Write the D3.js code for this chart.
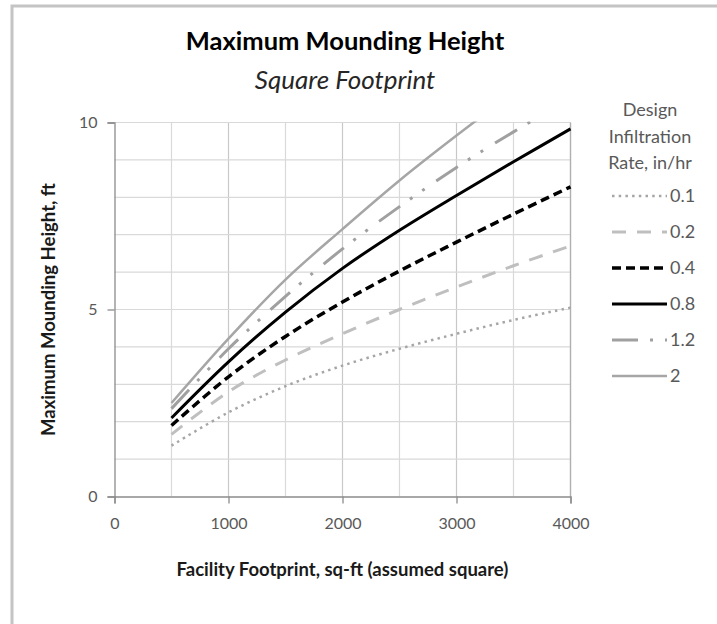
<!DOCTYPE html>
<html><head><meta charset="utf-8">
<script src="https://cdn.jsdelivr.net/npm/d3@7"></script>
<style>
body{margin:0;background:#fff;}
text{font-family:Lato,"Open Sans",sans-serif;}
</style>
</head><body>
<svg id="chart" width="717" height="624"></svg>
<script>
// ---- data ----
const footprints = [500, 1000, 1500, 2000, 2500, 3000, 3500, 4000];
const rateLabels = ["0.1", "0.2", "0.4", "0.8", "1.2", "2"];
const h01 = [1.36, 2.25, 2.95, 3.50, 3.95, 4.35, 4.72, 5.05];
const h02 = [1.66, 2.80, 3.65, 4.35, 5.00, 5.60, 6.17, 6.70];
const h04 = [1.90, 3.20, 4.28, 5.20, 6.03, 6.80, 7.55, 8.28];
const h08 = [2.10, 3.60, 4.93, 6.10, 7.12, 8.05, 8.95, 9.83];
const h12 = [2.35, 3.95, 5.35, 6.62, 7.75, 8.80, 9.75, 10.65];
const h20 = [2.50, 4.22, 5.80, 7.15, 8.45, 9.65, 10.80, 11.90];
const xTicks = [0, 1000, 2000, 3000, 4000];
const yTicks = [0, 5, 10];

const seriesValues = [h01, h02, h04, h08, h12, h20];
const styles = [
  {color:"#a6a6a6", width:2.5, dash:"2.5,4.2"},
  {color:"#bfbfbf", width:3, dash:"14,11"},
  {color:"#000000", width:3.5, dash:"9,5"},
  {color:"#000000", width:3, dash:null},
  {color:"#a0a0a0", width:3, dash:"26,12,3,12,3,14"},
  {color:"#a6a6a6", width:2.5, dash:null}
];

const svg = d3.select("#chart");
const L = 114.5, R = 570.5, T = 122.5, B = 496.5;
const x = d3.scaleLinear().domain([0, 4000]).range([L, R]);
const y = d3.scaleLinear().domain([0, 10]).range([B, T]);
const FONT = "Lato, 'Open Sans', sans-serif";

// outer chart border
svg.append("rect").attr("x", 12).attr("y", 6).attr("width", 900).attr("height", 900)
  .attr("fill", "none").attr("stroke", "#c4c4c4").attr("stroke-width", 3);

// gridlines
const g = svg.append("g");
g.selectAll("line.vg").data(d3.range(500, 4001, 500)).join("line")
  .attr("x1", d => x(d)).attr("x2", d => x(d)).attr("y1", T).attr("y2", B)
  .attr("stroke", d => d % 1000 === 0 ? "#c8c8c8" : "#d9d9d9").attr("stroke-width", 1.2);
g.selectAll("line.hg").data(d3.range(1, 11, 1)).join("line")
  .attr("x1", L).attr("x2", R).attr("y1", d => y(d)).attr("y2", d => y(d))
  .attr("stroke", "#d9d9d9").attr("stroke-width", 1.2);
svg.append("line").attr("x1", R).attr("x2", R).attr("y1", T).attr("y2", B)
  .attr("stroke", "#b0b0b0").attr("stroke-width", 1.3);

// axes
const yAxis = svg.append("g").attr("transform", `translate(${L},0)`)
  .call(d3.axisLeft(y).tickValues(yTicks).tickSize(7).tickPadding(10).tickFormat(d3.format("d")));
const xAxis = svg.append("g").attr("transform", `translate(0,${B})`)
  .call(d3.axisBottom(x).tickValues(xTicks).tickSize(7).tickPadding(14).tickFormat(d3.format("d")));
[yAxis, xAxis].forEach(a => {
  a.select(".domain").attr("stroke", "#8c8c8c").attr("stroke-width", 1.3);
  a.selectAll(".tick line").attr("stroke", "#8c8c8c").attr("stroke-width", 1.3);
  a.selectAll(".tick text").attr("fill", "#595959").attr("font-size", 16).attr("font-family", FONT);
});

// clip
svg.append("clipPath").attr("id", "plotclip").append("rect")
  .attr("x", L).attr("y", T - 1).attr("width", R - L + 2).attr("height", B - T + 1);

const line = d3.line().x((d, i) => x(footprints[i])).y(d => y(d)).curve(d3.curveCatmullRom.alpha(0.5));
const lines = svg.append("g").attr("clip-path", "url(#plotclip)");
seriesValues.forEach((vals, k) => {
  const s = styles[k];
  lines.append("path").datum(vals).attr("d", line)
    .attr("fill", "none").attr("stroke", s.color).attr("stroke-width", s.width)
    .attr("stroke-dasharray", s.dash);
});

// titles
svg.append("text").attr("x", 345).attr("y", 50).attr("text-anchor", "middle")
  .attr("font-size", 25.5).attr("font-weight", "bold").attr("fill", "#000")
  .text("Maximum Mounding Height");
svg.append("text").attr("x", 345).attr("y", 89).attr("text-anchor", "middle")
  .attr("font-size", 26).attr("font-style", "italic").attr("fill", "#262626")
  .text("Square Footprint");

// axis titles
svg.append("text").attr("transform", `translate(55,${(T + B) / 2}) rotate(-90)`)
  .attr("text-anchor", "middle").attr("font-size", 18.5).attr("font-weight", "bold").attr("fill", "#1a1a1a")
  .text("Maximum Mounding Height, ft");
svg.append("text").attr("x", (L + R) / 2).attr("y", 576).attr("text-anchor", "middle")
  .attr("font-size", 18.5).attr("font-weight", "bold").attr("fill", "#1a1a1a")
  .text("Facility Footprint, sq-ft (assumed square)");

// legend
const legTitle = ["Design", "Infiltration", "Rate, in/hr"];
svg.append("g").selectAll("text").data(legTitle).join("text")
  .attr("x", 650).attr("y", (d, i) => 116 + i * 26.5).attr("text-anchor", "middle")
  .attr("font-size", 18).attr("fill", "#595959").text(d => d);
const leg = svg.append("g").selectAll("g").data(rateLabels).join("g")
  .attr("transform", (d, i) => `translate(0,${196 + i * 36})`);
leg.append("line").attr("x1", 612).attr("x2", 667).attr("y1", 0).attr("y2", 0)
  .attr("stroke", (d, i) => styles[i].color).attr("stroke-width", (d, i) => styles[i].width)
  .attr("stroke-dasharray", (d, i) => styles[i].dash);
leg.append("text").attr("x", 670).attr("y", 6).attr("font-size", 18).attr("fill", "#595959")
  .text(d => d);
</script>
</body></html>
